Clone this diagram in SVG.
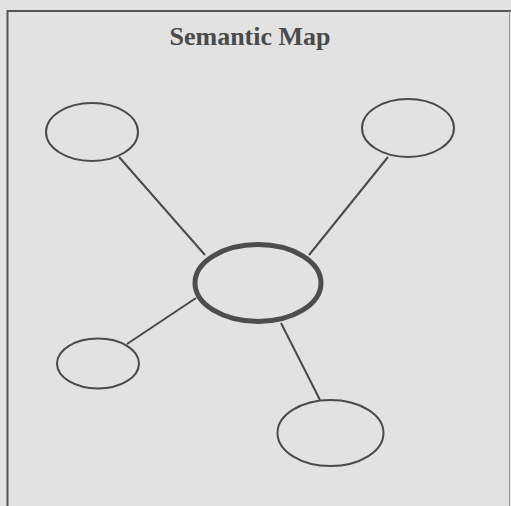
<svg xmlns="http://www.w3.org/2000/svg" width="511" height="506" viewBox="0 0 511 506">
  <style>
    .frame { fill: none; stroke: #555; stroke-width: 2; }
    .node { fill: none; stroke: #4a4a4a; stroke-width: 2; }
    .hub { fill: none; stroke: #4d4d4d; stroke-width: 5; }
    .link { stroke: #4a4a4a; stroke-width: 2; fill: none; }
    .title { font-family: "Liberation Serif", "Times New Roman", serif; font-weight: bold; font-size: 26px; fill: #4a4a4a; }
  </style>
  <rect width="511" height="506" fill="#e2e2e2"/>
  <!-- page frame: open at the bottom -->
  <path class="frame" d="M7.5 506 V11 H511"/>
  <line x1="509.5" y1="11" x2="509.5" y2="506" stroke="#9a9a9a" stroke-width="1"/>
  <text class="title" x="250" y="45" text-anchor="middle">Semantic Map</text>

  <g id="connectors">
    <line class="link" x1="119" y1="157" x2="205" y2="255"/>
    <line class="link" x1="388" y1="157" x2="309" y2="255"/>
    <line class="link" x1="127" y1="344" x2="196" y2="298"/>
    <line class="link" x1="281" y1="323" x2="320" y2="400"/>
  </g>

  <g id="center"><ellipse class="hub" cx="258" cy="283" rx="63" ry="38.5"/></g>
  <g id="top-left"><ellipse class="node" cx="92" cy="132" rx="46" ry="29"/></g>
  <g id="top-right"><ellipse class="node" cx="408" cy="128" rx="46" ry="29"/></g>
  <g id="bottom-left"><ellipse class="node" cx="98" cy="363.5" rx="41" ry="25"/></g>
  <g id="bottom-right"><ellipse class="node" cx="330.5" cy="433" rx="53" ry="33"/></g>
</svg>
